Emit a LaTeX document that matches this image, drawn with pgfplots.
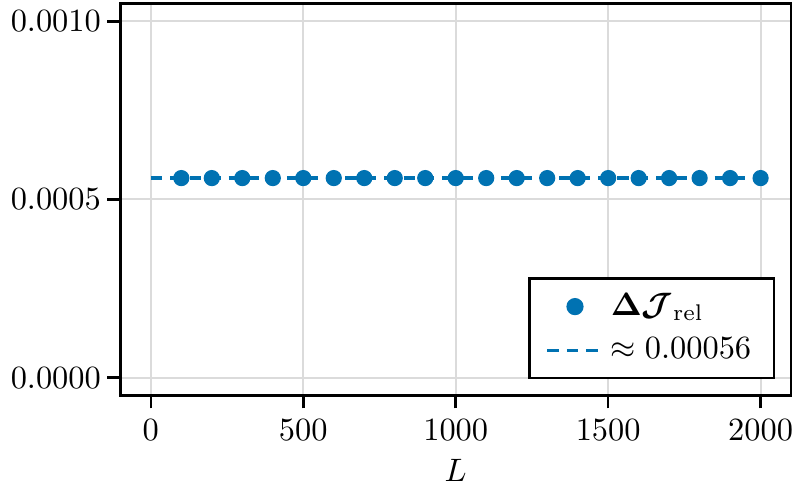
\documentclass[border=0pt]{standalone}
\usepackage{pgfplots}
\usepackage{amsmath}
\usepackage{bm}
\pgfplotsset{compat=1.18}
\definecolor{mkblue}{HTML}{0072B2}

\begin{document}
\begin{tikzpicture}
  \begin{axis}[
    scale only axis,
    width=207pt,
    height=121pt,
    xmin=-100, xmax=2100,
    ymin=-0.00005, ymax=0.00105,
    xtick={0,500,1000,1500,2000},
    ytick={0,0.0005,0.001},
    scaled y ticks=false,
    xticklabel style={/pgf/number format/1000 sep={}, inner xsep=0pt},
    yticklabel style={xshift=1.5pt, /pgf/number format/fixed,
      /pgf/number format/fixed zerofill, /pgf/number format/precision=4},
    xlabel={$L$},
    xlabel style={yshift=1pt},
    tick align=outside,
    xtick pos=left, ytick pos=left,
    major tick length=4pt,
    every tick/.style={black, line width=0.8pt},
    axis line style={line width=0.8pt},
    grid=major,
    major grid style={gray!28, line width=0.6pt},
    legend style={at={(0.976,0.041)}, anchor=south east, draw=black,
      line width=0.7pt, inner xsep=5pt, inner ysep=2.5pt, row sep=1.5pt},
    legend cell align=left,
  ]
    \addplot[only marks, mark=*, mark size=2.3pt, color=mkblue] coordinates {
      (100,0.00056) (200,0.00056) (300,0.00056) (400,0.00056) (500,0.00056)
      (600,0.00056) (700,0.00056) (800,0.00056) (900,0.00056) (1000,0.00056)
      (1100,0.00056) (1200,0.00056) (1300,0.00056) (1400,0.00056) (1500,0.00056)
      (1600,0.00056) (1700,0.00056) (1800,0.00056) (1900,0.00056) (2000,0.00056)
    };
    \addlegendentry{$\bm{\Delta\mathcal{J}}_{\mathrm{rel}}$}
    \addplot[no marks, color=mkblue, line width=1pt, dash pattern=on 3.5pt off 2.5pt] coordinates {
      (0,0.00056) (2000,0.00056)
    };
    \addlegendentry{$\approx 0.00056$}
  \end{axis}
\end{tikzpicture}
\end{document}
